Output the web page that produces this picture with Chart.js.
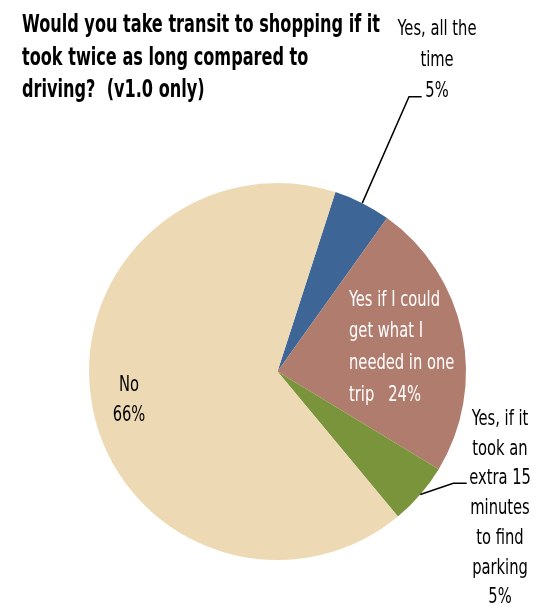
<!DOCTYPE html>
<html>
<head>
<meta charset="utf-8">
<script src="https://cdn.jsdelivr.net/npm/chart.js@4/dist/chart.umd.min.js"></script>
<style>
  html, body { margin: 0; padding: 0; background: #ffffff; }
  #wrap { width: 546px; height: 610px; }
</style>
</head>
<body>
<div id="wrap"><canvas id="c" width="546" height="610"></canvas></div>
<script>
// ---- data ----
const titleLines = ['Would you take transit to shopping if it', 'took twice as long compared to', 'driving?  (v1.0 only)'];
const categories = ['Yes, all the time', 'Yes if I could get what I needed in one trip', 'Yes, if it took an extra 15 minutes to find parking', 'No'];
const values = [4.9, 23.8, 5.3, 66.0];
const sliceColors = ['#3D6595', '#B07C6E', '#7A943C', '#EDDAB4'];
const labelTextLines = [
  ['Yes, all the', 'time'],
  ['Yes if I could', 'get what I', 'needed in one', 'trip   '],
  ['Yes, if it', 'took an', 'extra 15', 'minutes', 'to find', 'parking'],
  ['No']
];

// ---- layout/style (relative to pie centre) ----
const FONT = '"Liberation Sans Narrow", "DejaVu Sans Condensed", "Liberation Sans", sans-serif';
const labelLayout = [
  { dx: 159.5, dy: -336.5, lh: 31, align: 'center', color: '#000', pctInline: false, leader: [[131.5, -274.8], [144.2, -274.8]] },
  { dx: 71.5, dy: -66, lh: 31.8, align: 'left', color: '#fff', pctInline: true },
  { dx: 222.5, dy: 53.5, lh: 29.7, align: 'center', color: '#000', pctInline: false, leader: [[175.8, 111.8], [189.2, 111.8]] },
  { dx: -148.5, dy: 19.5, lh: 30, align: 'center', color: '#000', pctInline: false }
];

function pct(v) { return Math.round(v) + '%'; }

const labelPlugin = {
  id: 'customLabels',
  afterDraw(chart) {
    const ctx = chart.ctx;
    const meta = chart.getDatasetMeta(0);
    const a0 = meta.data[0];
    const cx = a0.x, cy = a0.y, R = a0.outerRadius;

    // title
    ctx.save();
    ctx.font = 'bold 24px ' + FONT;
    ctx.fillStyle = '#000';
    ctx.textBaseline = 'alphabetic';
    ctx.textAlign = 'left';
    const tScale = 358 / ctx.measureText(titleLines[0]).width;
    const tBase = [31.7, 64.5, 96.7];
    titleLines.forEach((t, i) => {
      ctx.save();
      ctx.translate(22, tBase[i]);
      ctx.scale(tScale, 1);
      ctx.fillText(t, 0, 0);
      ctx.restore();
    });
    ctx.restore();

    // labels
    ctx.save();
    ctx.font = '21px ' + FONT;
    const lScale = 91 / ctx.measureText('Yes if I could').width;
    meta.data.forEach((arc, i) => {
      const L = labelLayout[i];
      let lines = labelTextLines[i].slice();
      if (L.pctInline) {
        lines[lines.length - 1] = lines[lines.length - 1] + pct(values[i]);
      } else {
        lines.push(pct(values[i]));
      }
      ctx.fillStyle = L.color;
      ctx.textAlign = L.align;
      ctx.textBaseline = 'alphabetic';
      lines.forEach((t, k) => {
        ctx.save();
        ctx.translate(cx + L.dx, cy + L.dy + k * L.lh);
        ctx.scale(lScale, 1);
        ctx.fillText(t, 0, 0);
        ctx.restore();
      });
      if (L.leader) {
        const mid = (arc.startAngle + arc.endAngle) / 2;
        ctx.beginPath();
        ctx.moveTo(cx + R * Math.cos(mid), cy + R * Math.sin(mid));
        L.leader.forEach(p => ctx.lineTo(cx + p[0], cy + p[1]));
        ctx.strokeStyle = '#000';
        ctx.lineWidth = 1.5;
        ctx.stroke();
      }
    });
    ctx.restore();
  }
};

new Chart(document.getElementById('c'), {
  type: 'pie',
  data: {
    labels: categories,
    datasets: [{
      data: values,
      backgroundColor: sliceColors,
      borderWidth: 0,
      hoverBorderWidth: 0,
      offset: 0,
      hoverOffset: 0
    }]
  },
  options: {
    responsive: false,
    animation: false,
    events: [],
    rotation: 17.9,
    layout: { padding: { left: 89, right: 80, top: 183, bottom: 50 } },
    plugins: {
      legend: { display: false },
      tooltip: { enabled: false },
      title: { display: false }
    }
  },
  plugins: [labelPlugin]
});
</script>
</body>
</html>
